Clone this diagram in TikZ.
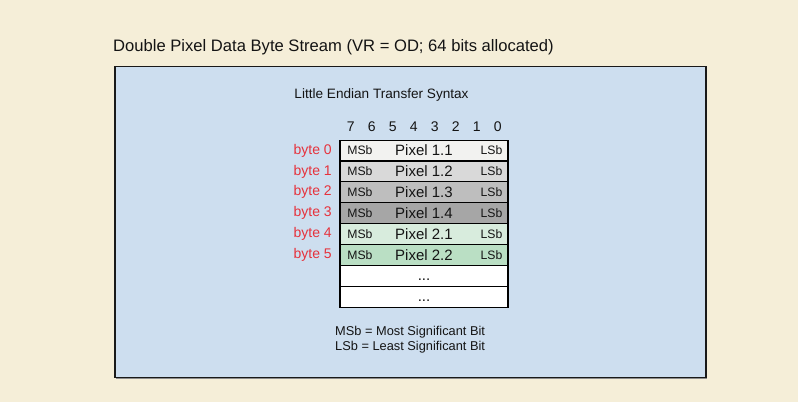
\documentclass[tikz,border=0pt]{standalone}
\usepackage{fontspec}
\setmainfont{Liberation Sans}
\usetikzlibrary{shadows}
\definecolor{cream}{RGB}{245,238,216}
\definecolor{panel}{RGB}{205,222,239}
\definecolor{bytered}{RGB}{230,50,60}
\definecolor{txt}{RGB}{20,20,20}
\definecolor{rowA}{RGB}{242,242,240}
\definecolor{rowB}{RGB}{217,217,217}
\definecolor{rowC}{RGB}{190,190,190}
\definecolor{rowD}{RGB}{166,166,166}
\definecolor{rowE}{RGB}{216,236,221}
\definecolor{rowF}{RGB}{186,223,196}
\begin{document}
\begin{tikzpicture}[x=1pt,y=-1pt,
  panelbox/.style={draw=black!90, line width=1.6pt, fill=panel, inner sep=0pt,
    drop shadow={shadow xshift=1.2pt, shadow yshift=-1.2pt, fill=black!45, opacity=1}},
  rowbox/.style={draw=black, line width=1.1pt, minimum width=168pt, minimum height=20.9pt, inner sep=0pt},
  bitlbl/.style={font=\fontsize{14}{16}\selectfont, text=txt, inner sep=0pt},
  pixlbl/.style={font=\fontsize{15}{16}\selectfont, text=txt, inner sep=0pt},
  sblbl/.style={font=\fontsize{12.2}{14}\selectfont, text=txt, inner sep=0pt},
  bytelbl/.style={font=\fontsize{14}{16}\selectfont, text=bytered, inner sep=0pt, anchor=east},
  legend/.style={font=\fontsize{12.8}{14}\selectfont, text=txt, inner sep=0pt, anchor=west}]
\useasboundingbox[fill=cream] (0,0) rectangle (798,402);
\node[panelbox, anchor=north west, minimum width=591pt, minimum height=311pt] (frame) at (114,65.5) {};
\node[font=\fontsize{16.6}{20}\selectfont, text=txt, inner sep=0pt, anchor=west] (title) at (113,47) {Double Pixel Data Byte Stream (VR = OD; 64 bits allocated)};
\node[font=\fontsize{13.6}{16}\selectfont, text=txt, inner sep=0pt] (syntax) at (381.5,95) {Little Endian Transfer Syntax};
% bit numbers
\foreach \b [count=\i from 0] in {7,6,5,4,3,2,1,0}
  \node[bitlbl] (bit\b) at (350.7+21*\i,127) {\b};
% rows
\node[rowbox, fill=rowA] (r0) at (424,150.5) {};
\node[rowbox, fill=rowB] (r1) at (424,171.4) {};
\node[rowbox, fill=rowC] (r2) at (424,192.3) {};
\node[rowbox, fill=rowD] (r3) at (424,213.2) {};
\node[rowbox, fill=rowE] (r4) at (424,234.1) {};
\node[rowbox, fill=rowF] (r5) at (424,255.0) {};
\node[rowbox, fill=white] (r6) at (424,275.9) {};
\node[rowbox, fill=white] (r7) at (424,296.8) {};
\foreach \r/\p in {0/1.1,1/1.2,2/1.3,3/1.4,4/2.1,5/2.2}{
  \node[sblbl] (msb\r) at ([xshift=20.5pt]r\r.west) {MSb};
  \node[sblbl] (lsb\r) at ([xshift=-17pt]r\r.east) {LSb};
  \node[pixlbl] (pix\r) at (r\r.center) {Pixel \p};
  \node[bytelbl] (byte\r) at ([xshift=-7.5pt]r\r.west) {byte \r};
}
\node[pixlbl, anchor=base] (dots6) at ([yshift=-4.5pt]r6.center) {...};
\node[pixlbl, anchor=base] (dots7) at ([yshift=-4.5pt]r7.center) {...};
\node[legend] (leg1) at (335,332) {MSb = Most Significant Bit};
\node[legend] (leg2) at (335,347) {LSb = Least Significant Bit};
\end{tikzpicture}
\end{document}
